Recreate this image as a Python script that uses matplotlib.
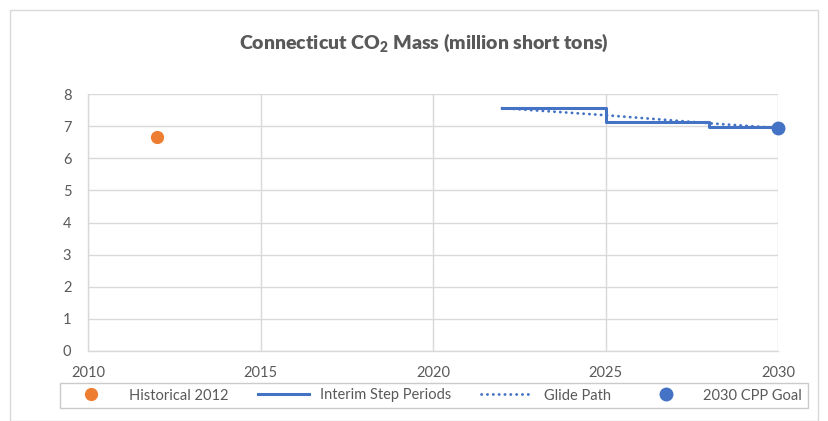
import matplotlib
matplotlib.use("Agg")
import matplotlib.pyplot as plt
from matplotlib.patches import Rectangle

# Data
hist_year = [2012]
hist_value = [6.66]
step_years = [2022, 2025, 2028, 2030]
step_values = [7.56, 7.12, 6.97, 6.97]
glide_years = [2022, 2025, 2028, 2030]
glide_values = [7.56, 7.34, 7.09, 6.94]
goal_year = [2030]
goal_value = [6.94]
x_ticks = [2010, 2015, 2020, 2025, 2030]
y_ticks = [0, 1, 2, 3, 4, 5, 6, 7, 8]

plt.rcParams['font.family'] = ['Lato', 'DejaVu Sans']
text_c = '#595959'
grid_c = '#d9d9d9'
orange = '#ED7D31'
blue = '#4472C4'

fig = plt.figure(figsize=(8.29, 4.21), dpi=100)
fig.patch.set_facecolor('white')
fig.patches.append(Rectangle((10/829, 0), 808/829, 411/421, transform=fig.transFigure,
                             fill=False, edgecolor=grid_c, linewidth=1))
ax = fig.add_axes([88/829, 1 - 351/421, 690/829, 257/421])

ax.plot(hist_year, hist_value, 'o', color=orange, markersize=8.5, label='Historical 2012', zorder=5)
ax.step(step_years, step_values, where='post', color=blue, linewidth=2.2, label='Interim Step Periods', zorder=4)
ax.plot(glide_years, glide_values, color=blue, linewidth=2.0, linestyle=(0, (0.1, 2.0)),
        dash_capstyle='round', label='Glide Path', zorder=4)
ax.plot(goal_year, goal_value, 'o', color=blue, markersize=9, label='2030 CPP Goal', zorder=6, clip_on=False)

ax.set_xlim(2010, 2030)
ax.set_ylim(0, 8)
ax.set_xticks(x_ticks)
ax.set_yticks(y_ticks)
ax.grid(True, color=grid_c, linewidth=1)
ax.set_axisbelow(True)
for s in ['top', 'right']:
    ax.spines[s].set_visible(False)
for s in ['left', 'bottom']:
    ax.spines[s].set_color(grid_c)
    ax.spines[s].set_linewidth(1)
ax.tick_params(axis='both', length=0, colors=text_c, labelsize=10.5)
ax.tick_params(axis='x', pad=11)
ax.tick_params(axis='y', pad=12)

fig.text(424/829, 1 - 43/421, r'Connecticut CO$_\mathregular{2}$ Mass (million short tons)',
         ha='center', va='center', fontsize=14, fontweight='heavy', color=text_c)

leg = fig.legend(loc='center', bbox_to_anchor=(60/829, 11/421, 748/829, 29/421), mode='expand',
                 ncol=4, frameon=True, fancybox=False, edgecolor='#bfbfbf', fontsize=10.5,
                 handlelength=3.5, borderaxespad=0, labelcolor=text_c)
leg.get_frame().set_linewidth(1)

fig.savefig('out.png', dpi=100)
